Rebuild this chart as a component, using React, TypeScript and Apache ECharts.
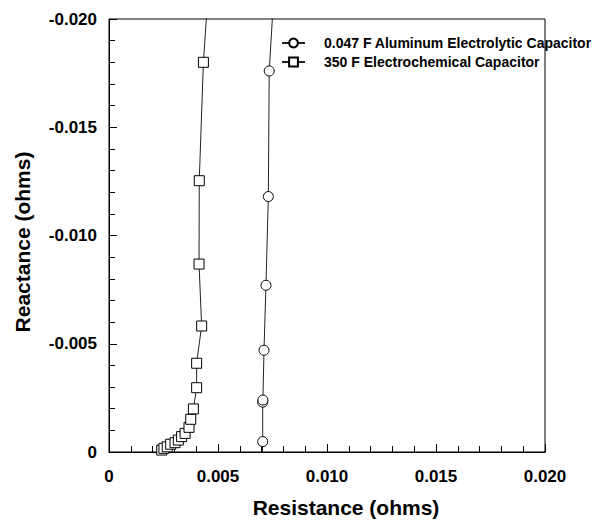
import React, { useEffect, useRef } from "react";
import * as echarts from "echarts";

// Aluminum electrolytic capacitor (circles)
const alResistance = [0.00703, 0.00705, 0.00705, 0.00706, 0.00711, 0.0072, 0.00731, 0.00735, 0.0077];
const alReactance = [0.0004, -0.00048, -0.0023, -0.0024, -0.0047, -0.0077, -0.0118, -0.0176, -0.0235];

// Electrochemical capacitor (squares)
const ecResistance = [
  0.00242, 0.00252, 0.00267, 0.00283, 0.00303, 0.00318, 0.00333, 0.00349, 0.00367,
  0.00375, 0.00387, 0.00402, 0.00402, 0.00425, 0.00413, 0.00414, 0.00433, 0.0046,
];
const ecReactance = [
  -0.00009, -0.00017, -0.00024, -0.00036, -0.00043, -0.00055, -0.00071, -0.00086, -0.00114,
  -0.00151, -0.00199, -0.00297, -0.0041, -0.00582, -0.00868, -0.01253, -0.018, -0.022,
];

const seriesNames = [
  "0.047 F Aluminum Electrolytic Capacitor",
  "350 F Electrochemical Capacitor",
];
const xTitle = "Resistance (ohms)";
const yTitle = "Reactance (ohms)";

const FONT = "Liberation Sans, Arial, Helvetica, sans-serif";

const fmt = (v: number) => (Math.abs(v) < 1e-9 ? "0" : v.toFixed(3));

export default function App() {
  const ref = useRef<HTMLDivElement>(null);
  useEffect(() => {
    if (!ref.current) return;
    const chart = echarts.init(ref.current, undefined, { renderer: "svg" });
    const lineStyle = { color: "#222", width: 1 };
    const itemStyle = { color: "#fff", borderColor: "#000", borderWidth: 1 };
    chart.setOption({
      animation: false,
      backgroundColor: "#fff",
      grid: {
        left: 109,
        top: 19,
        right: 53,
        bottom: 68,
        show: true,
        borderColor: "#000",
        borderWidth: 1,
        backgroundColor: "transparent",
      },
      legend: {
        orient: "vertical",
        left: 281,
        top: 36,
        padding: 0,
        itemWidth: 23,
        itemHeight: 11,
        itemGap: 5,
        textStyle: { fontFamily: FONT, fontWeight: "bold", fontSize: 14, color: "#000", padding: [0, 0, 0, 14] },
        data: seriesNames,
      },
      xAxis: {
        type: "value",
        min: 0,
        max: 0.02,
        interval: 0.005,
        axisLine: { show: true, lineStyle: { color: "#000", width: 1 } },
        axisTick: { show: true, inside: true, length: 8, lineStyle: { color: "#000" } },
        minorTick: { show: true, splitNumber: 5, length: 6, lineStyle: { color: "#000" } },
        splitLine: { show: false },
        axisLabel: { fontFamily: FONT, fontWeight: "bold", fontSize: 17, color: "#000", margin: 16, formatter: fmt },
      },
      yAxis: {
        type: "value",
        min: -0.02,
        max: 0,
        interval: 0.005,
        inverse: true,
        axisLine: { show: true, lineStyle: { color: "#000", width: 1 } },
        axisTick: { show: true, inside: true, length: 8, lineStyle: { color: "#000" } },
        minorTick: { show: true, splitNumber: 5, length: 6, lineStyle: { color: "#000" } },
        splitLine: { show: false },
        axisLabel: { fontFamily: FONT, fontWeight: "bold", fontSize: 17, color: "#000", margin: 12, formatter: fmt },
      },
      graphic: [
        {
          type: "text",
          x: 346,
          y: 507,
          style: { text: xTitle, font: `bold 21px ${FONT}`, fill: "#000", align: "center", verticalAlign: "middle" },
        },
        {
          type: "text",
          x: 22,
          y: 242,
          rotation: Math.PI / 2,
          style: { text: yTitle, font: `bold 21px ${FONT}`, fill: "#000", align: "center", verticalAlign: "middle" },
        },
      ],
      series: [
        {
          name: seriesNames[0],
          type: "line",
          data: alResistance.map((r, i) => [r, alReactance[i]]),
          symbol: "circle",
          symbolSize: 10,
          showAllSymbol: true,
          clip: true,
          lineStyle,
          itemStyle,
          z: 3,
        },
        {
          name: seriesNames[1],
          type: "line",
          data: ecResistance.map((r, i) => [r, ecReactance[i]]),
          symbol: "rect",
          symbolSize: 10,
          showAllSymbol: true,
          clip: true,
          lineStyle,
          itemStyle,
          z: 3,
        },
      ],
    });
    return () => chart.dispose();
  }, []);
  return <div ref={ref} style={{ position: "fixed", left: 0, top: 0, width: 598, height: 520 }} />;
}
